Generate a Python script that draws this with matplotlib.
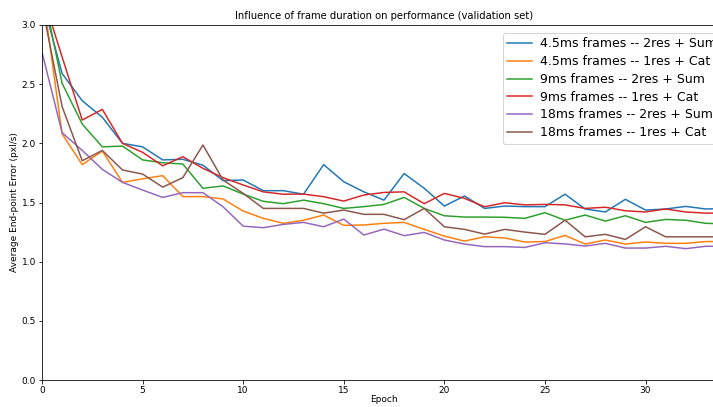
import numpy as np
import matplotlib
matplotlib.use('Agg')
import matplotlib.pyplot as plt

# validation error per epoch for each frame duration / architecture
epochs = np.arange(35)

err_45_sum = [3.22, 2.59, 2.36, 2.22, 2.00, 1.97, 1.86, 1.865, 1.815, 1.685,
              1.69, 1.60, 1.60, 1.57, 1.82, 1.675, 1.59, 1.52, 1.745, 1.62,
              1.47, 1.555, 1.45, 1.47, 1.465, 1.465, 1.57, 1.445, 1.42, 1.527,
              1.436, 1.445, 1.467, 1.445, 1.45]
err_45_cat = [3.31, 2.08, 1.82, 1.935, 1.67, 1.70, 1.727, 1.55, 1.55, 1.53,
              1.428, 1.366, 1.324, 1.35, 1.394, 1.307, 1.31, 1.324, 1.332, 1.273,
              1.216, 1.174, 1.21, 1.20, 1.166, 1.17, 1.222, 1.149, 1.183, 1.149,
              1.166, 1.155, 1.155, 1.17, 1.17]
err_9_sum = [3.33, 2.507, 2.163, 1.97, 1.977, 1.86, 1.836, 1.825, 1.62, 1.64,
             1.571, 1.51, 1.49, 1.52, 1.49, 1.45, 1.465, 1.484, 1.543, 1.45,
             1.388, 1.377, 1.377, 1.375, 1.366, 1.414, 1.35, 1.394, 1.343, 1.388,
             1.332, 1.357, 1.35, 1.324, 1.32]
err_9_cat = [3.27, 2.73, 2.197, 2.287, 2.0, 1.924, 1.81, 1.887, 1.789, 1.71,
             1.648, 1.59, 1.57, 1.571, 1.549, 1.512, 1.563, 1.585, 1.59, 1.49,
             1.577, 1.535, 1.464, 1.498, 1.48, 1.484, 1.48, 1.45, 1.46, 1.43,
             1.42, 1.445, 1.42, 1.41, 1.41]
err_18_sum = [2.77, 2.09, 1.94, 1.78, 1.67, 1.605, 1.543, 1.583, 1.583, 1.464,
              1.30, 1.287, 1.315, 1.332, 1.295, 1.36, 1.225, 1.275, 1.22, 1.247,
              1.183, 1.149, 1.127, 1.127, 1.12, 1.16, 1.15, 1.132, 1.155, 1.115,
              1.115, 1.13, 1.11, 1.13, 1.13]
err_18_cat = [3.17, 2.31, 1.853, 1.94, 1.775, 1.74, 1.63, 1.71, 1.986, 1.69,
              1.577, 1.45, 1.45, 1.45, 1.41, 1.436, 1.40, 1.40, 1.355, 1.45,
              1.295, 1.273, 1.233, 1.273, 1.25, 1.231, 1.35, 1.21, 1.231, 1.188,
              1.295, 1.21, 1.21, 1.21, 1.21]

labels = ['4.5ms frames -- 2res + Sum', '4.5ms frames -- 1res + Cat',
          '9ms frames -- 2res + Sum', '9ms frames -- 1res + Cat',
          '18ms frames -- 2res + Sum', '18ms frames -- 1res + Cat']
series = [err_45_sum, err_45_cat, err_9_sum, err_9_cat, err_18_sum, err_18_cat]

W, H = 713, 407
fig = plt.figure(figsize=(W / 72, H / 72), dpi=72)
# axes runs a little past the right edge of the figure
ax = fig.add_axes([42 / W, 27 / H, 684 / W, 355 / H])

for vals, lab in zip(series, labels):
    ax.plot(epochs, vals, linewidth=1.5, label=lab)

ax.set_xlim(0, 34)
ax.set_ylim(0, 3.0)
ax.set_xticks([0, 5, 10, 15, 20, 25, 30])
ax.set_yticks([0.0, 0.5, 1.0, 1.5, 2.0, 2.5, 3.0])
ax.tick_params(labelsize=9, length=3.5, pad=2.5)
ax.set_xlabel('Epoch', fontsize=9, labelpad=0)
ax.set_ylabel('Average End-point Error (pxl/s)', fontsize=9, labelpad=3)
ax.set_title('Influence of frame duration on performance (validation set)', fontsize=10)

ax.legend(loc='upper left', bbox_to_anchor=(503 / W, 1 - 33 / H),
          bbox_transform=fig.transFigure, fontsize=12.5, borderaxespad=0,
          handletextpad=0.65, labelspacing=0.38, borderpad=0.35)

plt.savefig('out.png', dpi=72)
